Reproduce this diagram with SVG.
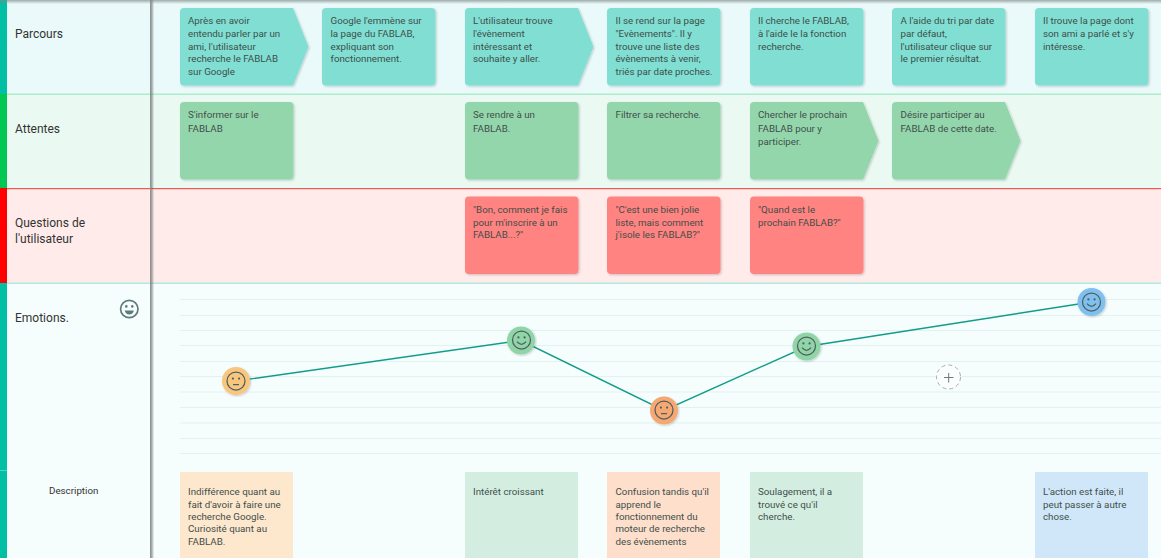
<svg xmlns="http://www.w3.org/2000/svg" width="1161" height="558" viewBox="0 0 1161 558">
<defs>
<style>
text{font-family:Roboto,"Liberation Sans",sans-serif}
.t{font-size:9.75px;fill:#3f4e4b}
.lab{font-size:12px;fill:#333}
.grid line{stroke:#e0f3f0;stroke-width:1}
.c1{fill:#80dfd2}.c2{fill:#94d6ac}.c3{fill:#ff8380}
.card{filter:url(#sh)}
.fc{fill:none;stroke:#4f5f5c;stroke-width:1.25}
.fd{fill:#4f5f5c}
</style>
<filter id="sh" x="-5%" y="-5%" width="112%" height="112%"><feDropShadow dx="1" dy="1" stdDeviation="0.8" flood-color="#000" flood-opacity="0.2"/></filter>
<linearGradient id="top" x1="0" y1="0" x2="0" y2="1"><stop offset="0" stop-color="#7d8a88" stop-opacity=".7"/><stop offset="1" stop-color="#7d8a88" stop-opacity="0"/></linearGradient>
<linearGradient id="side" x1="0" y1="0" x2="1" y2="0"><stop offset="0" stop-color="#555" stop-opacity=".6"/><stop offset="1" stop-color="#555" stop-opacity="0"/></linearGradient>
<path id="rect" d="M4 0H109.500Q113.500 0 113.500 4V73Q113.500 77.500 109.500 77.500H4Q0 77.500 0 73.500V4Q0 0 4 0Z"/>
<path id="arrow" d="M4 0H113L128.500 38.700L113 77.500H4Q0 77.500 0 73.500V4Q0 0 4 0Z"/>
<g id="happy"><circle r="9" class="fc"/><circle cx="-3.100" cy="-2.600" r="1.100" class="fd"/><circle cx="3.100" cy="-2.600" r="1.100" class="fd"/><path d="M-4.500 1.700Q0 7 4.500 1.700" class="fc"/></g>
<g id="neutral"><circle r="9" class="fc"/><circle cx="-3.100" cy="-2.400" r="1.100" class="fd"/><circle cx="3.100" cy="-2.400" r="1.100" class="fd"/><path d="M-3 3.600H3" class="fc"/></g>
</defs>

<g id="backgrounds">
<rect x="0" y="0" width="1161" height="94" fill="#eaf9f9"/>
<rect x="0" y="94" width="1161" height="94" fill="#eafaf2"/>
<rect x="0" y="188" width="1161" height="95" fill="#ffecea"/>
<rect x="0" y="283" width="1161" height="275" fill="#f6fdfd"/>
<rect x="0" y="0" width="7" height="94" fill="#00bfa5"/>
<rect x="0" y="94" width="7" height="94" fill="#00c853"/>
<rect x="0" y="188" width="7" height="95" fill="#ff0000"/>
<rect x="0" y="283" width="7" height="275" fill="#00bfa5"/>
<rect x="0" y="470" width="7" height="1" fill="#4fd4c2"/>
<rect x="7" y="93.500" width="1154" height="1.500" fill="#aeeccb"/>
<rect x="7" y="188" width="1154" height="1.200" fill="#f2554f"/>
<rect x="7" y="282.500" width="1154" height="1.500" fill="#b2e8df"/>
</g>

<g id="grid" class="grid">
<line x1="180" x2="1161" y1="299.500" y2="299.500"/><line x1="180" x2="1161" y1="315.500" y2="315.500"/><line x1="180" x2="1161" y1="330.500" y2="330.500"/><line x1="180" x2="1161" y1="345.500" y2="345.500"/><line x1="180" x2="1161" y1="361.500" y2="361.500"/><line x1="180" x2="1161" y1="376.500" y2="376.500"/><line x1="180" x2="1161" y1="392" y2="392"/><line x1="180" x2="1161" y1="407.500" y2="407.500"/><line x1="180" x2="1161" y1="423" y2="423"/><line x1="180" x2="1161" y1="438.500" y2="438.500"/><line x1="180" x2="1161" y1="453.500" y2="453.500"/>
</g>

<g id="row-labels">
<text class="lab" x="15" y="38">Parcours</text>
<text class="lab" x="15" y="133">Attentes</text>
<text class="lab" x="15" y="227">Questions de</text>
<text class="lab" x="15" y="243">l'utilisateur</text>
<text class="lab" x="15" y="322">Emotions.</text>
<text class="t" x="49" y="494" style="fill:#333">Description</text>
<g id="emotions-icon" transform="translate(129.300 309)"><circle r="8.700" fill="none" stroke="#5f7a7c" stroke-width="1.700"/><circle cx="-3" cy="-2.600" r="1.300" fill="#5f7a7c"/><circle cx="3" cy="-2.600" r="1.300" fill="#5f7a7c"/><path d="M-4.600 1.600H4.600Q3.600 5.600 0 5.600Q-3.600 5.600 -4.600 1.600Z" fill="#5f7a7c"/></g>
</g>

<g id="p1"><use href="#arrow" class="c1 card" x="180" y="8"/><text class="t" x="188" y="24">Après en avoir</text><text class="t" x="188" y="36.500">entendu parler par un</text><text class="t" x="188" y="49.500">ami, l'utilisateur</text><text class="t" x="188" y="62">recherche le FABLAB</text><text class="t" x="188" y="74.500">sur Google</text></g>
<g id="p2"><use href="#rect" class="c1 card" x="322" y="8"/><text class="t" x="330.500" y="24">Google l'emmène sur</text><text class="t" x="330.500" y="36.500">la page du FABLAB,</text><text class="t" x="330.500" y="49.500">expliquant son</text><text class="t" x="330.500" y="62">fonctionnement.</text></g>
<g id="p3"><use href="#arrow" class="c1 card" x="465" y="8"/><text class="t" x="473" y="24">L'utilisateur trouve</text><text class="t" x="473" y="36.500">l'évènement</text><text class="t" x="473" y="49.500">intéressant et</text><text class="t" x="473" y="62">souhaite y aller.</text></g>
<g id="p4"><use href="#rect" class="c1 card" x="607" y="8"/><text class="t" x="615.500" y="24">Il se rend sur la page</text><text class="t" x="615.500" y="36.500">"Evènements". Il y</text><text class="t" x="615.500" y="49.500">trouve une liste des</text><text class="t" x="615.500" y="62">évènements à venir,</text><text class="t" x="615.500" y="74.500">triés par date proches.</text></g>
<g id="p5"><use href="#rect" class="c1 card" x="750" y="8"/><text class="t" x="758" y="24">Il cherche le FABLAB,</text><text class="t" x="758" y="36.500">à l'aide le la fonction</text><text class="t" x="758" y="49.500">recherche.</text></g>
<g id="p6"><use href="#rect" class="c1 card" x="892" y="8"/><text class="t" x="900.500" y="24">A l'aide du tri par date</text><text class="t" x="900.500" y="36.500">par défaut,</text><text class="t" x="900.500" y="49.500">l'utilisateur clique sur</text><text class="t" x="900.500" y="62">le premier résultat.</text></g>
<g id="p7"><use href="#rect" class="c1 card" x="1035" y="8"/><text class="t" x="1043" y="24">Il trouve la page dont</text><text class="t" x="1043" y="36.500">son ami a parlé et s'y</text><text class="t" x="1043" y="49.500">intéresse.</text></g>

<g id="a1"><use href="#rect" class="c2 card" x="180" y="102"/><text class="t" x="188" y="118">S'informer sur le</text><text class="t" x="188" y="131.500">FABLAB</text></g>
<g id="a2"><use href="#rect" class="c2 card" x="465" y="102"/><text class="t" x="473" y="118">Se rendre à un</text><text class="t" x="473" y="131.500">FABLAB.</text></g>
<g id="a3"><use href="#rect" class="c2 card" x="607" y="102"/><text class="t" x="615.500" y="118">Filtrer sa recherche.</text></g>
<g id="a4"><use href="#arrow" class="c2 card" x="750" y="102"/><text class="t" x="758" y="118">Chercher le prochain</text><text class="t" x="758" y="131.500">FABLAB pour y</text><text class="t" x="758" y="144.500">participer.</text></g>
<g id="a5"><use href="#arrow" class="c2 card" x="892" y="102"/><text class="t" x="900.500" y="118">Désire participer au</text><text class="t" x="900.500" y="131.500">FABLAB de cette date.</text></g>

<g id="q1"><use href="#rect" class="c3 card" x="465" y="196.500"/><text class="t" x="473" y="213">"Bon, comment je fais</text><text class="t" x="473" y="225.500">pour m'inscrire à un</text><text class="t" x="473" y="238">FABLAB...?"</text></g>
<g id="q2"><use href="#rect" class="c3 card" x="607" y="196.500"/><text class="t" x="615.500" y="213">"C'est une bien jolie</text><text class="t" x="615.500" y="225.500">liste, mais comment</text><text class="t" x="615.500" y="238">j'isole les FABLAB?"</text></g>
<g id="q3"><use href="#rect" class="c3 card" x="750" y="196.500"/><text class="t" x="758" y="213">"Quand est le</text><text class="t" x="758" y="225.500">prochain FABLAB?"</text></g>

<g id="connectors" fill="none" stroke="#119c8a" stroke-width="1.400">
<polyline points="236,381 521,340.500 664,410.500 806.500,346.500 1091.500,302"/>
</g>

<g id="e1"><circle cx="236" cy="381" r="14" fill="#f8c67f" filter="url(#sh)"/><use href="#neutral" x="236" y="381"/></g>
<g id="e2"><circle cx="521" cy="340.500" r="14" fill="#8fd5a8" filter="url(#sh)"/><use href="#happy" x="521.500" y="340"/></g>
<g id="e3"><circle cx="664" cy="410.500" r="14" fill="#f6a873" filter="url(#sh)"/><use href="#neutral" x="664" y="410"/></g>
<g id="e4"><circle cx="806.500" cy="346.500" r="14" fill="#8fd5a8" filter="url(#sh)"/><use href="#happy" x="806.500" y="346"/></g>
<g id="e5"><circle cx="1091.500" cy="302" r="14" fill="#7fc0ee" filter="url(#sh)"/><use href="#happy" x="1091.500" y="302"/></g>
<g id="add"><circle cx="948.500" cy="377" r="12" fill="#fbfefe" stroke="#a6aead" stroke-dasharray="4 3"/><path d="M944 377.500H953.500M948.700 373V382.500" stroke="#777" stroke-width="1" fill="none"/></g>

<g id="d1"><rect x="180" y="472" width="113" height="86" fill="#fde7cd"/><text class="t" x="188" y="494.500">Indifférence quant au</text><text class="t" x="188" y="507.500">fait d'avoir à faire une</text><text class="t" x="188" y="519.500">recherche Google.</text><text class="t" x="188" y="532">Curiosité quant au</text><text class="t" x="188" y="545">FABLAB.</text></g>
<g id="d2"><rect x="465" y="472" width="113" height="86" fill="#d3eee0"/><text class="t" x="473" y="494.500">Intérêt croissant</text></g>
<g id="d3"><rect x="607" y="472" width="113" height="86" fill="#fddfcb"/><text class="t" x="615.500" y="494.500">Confusion tandis qu'il</text><text class="t" x="615.500" y="507.500">apprend le</text><text class="t" x="615.500" y="519.500">fonctionnement du</text><text class="t" x="615.500" y="532">moteur de recherche</text><text class="t" x="615.500" y="545">des évènements</text></g>
<g id="d4"><rect x="750" y="472" width="113" height="86" fill="#d3eee0"/><text class="t" x="758" y="494.500">Soulagement, il a</text><text class="t" x="758" y="507.500">trouvé ce qu'il</text><text class="t" x="758" y="519.500">cherche.</text></g>
<g id="d5"><rect x="1035" y="472" width="113" height="86" fill="#cfe7f9"/><text class="t" x="1043" y="494.500">L'action est faite, il</text><text class="t" x="1043" y="507.500">peut passer à autre</text><text class="t" x="1043" y="519.500">chose.</text></g>

<g id="chrome">
<rect x="150" y="0" width="1.200" height="558" fill="#8b9493"/>
<rect x="151.200" y="0" width="3" height="558" fill="url(#side)"/>
<rect x="0" y="0" width="1161" height="4" fill="url(#top)"/>
</g>
</svg>
